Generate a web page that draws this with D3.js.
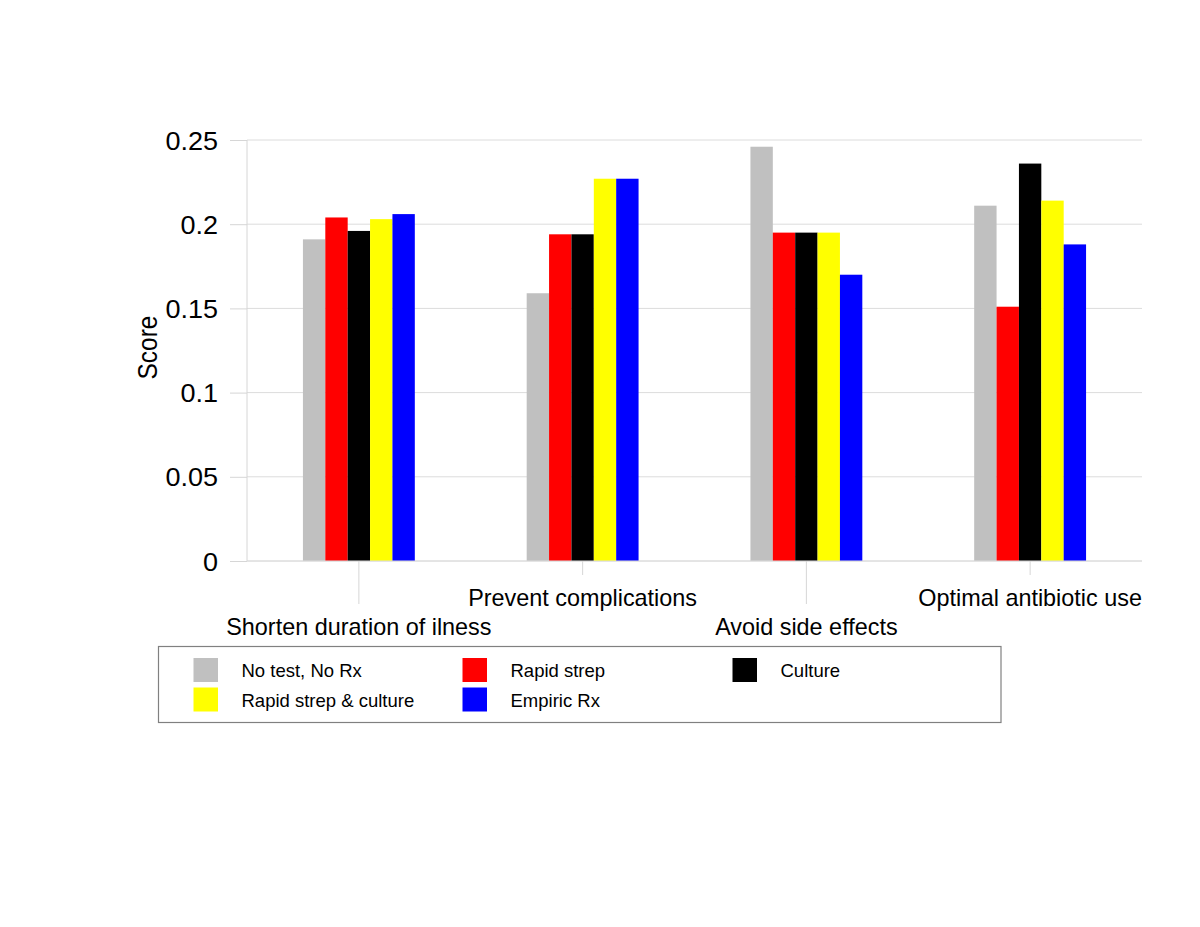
<!DOCTYPE html>
<html>
<head>
<meta charset="utf-8">
<script src="https://cdn.jsdelivr.net/npm/d3@7"></script>
<style>
  html, body { margin: 0; padding: 0; background: #fff; }
  svg { display: block; font-family: "Liberation Sans", Arial, sans-serif; }
</style>
</head>
<body>
<svg id="chart" width="1200" height="927"></svg>
<script>
const categories = ["Shorten duration of ilness", "Prevent complications", "Avoid side effects", "Optimal antibiotic use"];
const seriesNames = ["No test, No Rx", "Rapid strep", "Culture", "Rapid strep & culture", "Empiric Rx"];
const seriesColors = ["#c0c0c0", "#ff0000", "#000000", "#ffff00", "#0000ff"];
const noTestNoRx = [0.191, 0.159, 0.246, 0.211];
const rapidStrep = [0.204, 0.194, 0.195, 0.151];
const culture = [0.196, 0.194, 0.195, 0.236];
const rapidStrepCulture = [0.203, 0.227, 0.195, 0.214];
const empiricRx = [0.206, 0.227, 0.170, 0.188];
const yTicks = [0, 0.05, 0.1, 0.15, 0.2, 0.25];
const yTickLabels = ["0", "0.05", "0.1", "0.15", "0.2", "0.25"];
const yTitle = "Score";

const seriesValues = [noTestNoRx, rapidStrep, culture, rapidStrepCulture, empiricRx];

const svg = d3.select("#chart");
const pLeft = 247, pRight = 1142, pTop = 140, pBottom = 561;

const x0 = d3.scaleBand().domain(categories).range([pLeft, pRight]).paddingInner(0.5).paddingOuter(0.25);
const x1 = d3.scaleBand().domain(seriesNames).range([0, x0.bandwidth()]).padding(0);
const y = d3.scaleLinear().domain([0, 0.25]).range([pBottom, pTop]);

// gridlines
svg.append("g").selectAll("line").data(yTicks).join("line")
  .attr("x1", pLeft).attr("x2", pRight)
  .attr("y1", d => y(d)).attr("y2", d => y(d))
  .attr("stroke", "#dcdcdc").attr("stroke-width", 1);

// y axis line + ticks
const yAxis = d3.axisLeft(y).tickValues(yTicks).tickSize(17).tickFormat((d, i) => yTickLabels[i]);
const ya = svg.append("g").attr("transform", `translate(${pLeft},0)`).call(yAxis);
ya.select(".domain").attr("stroke", "#d6d6d6").attr("d", `M0,${pTop}V${pBottom}`);
ya.selectAll(".tick line").attr("stroke", "#d6d6d6");
ya.selectAll(".tick text").remove();
ya.selectAll(".tick").append("text")
  .attr("text-anchor", "end")
  .attr("transform", "translate(-29,9) scale(1.06,1)")
  .attr("font-size", 25.5)
  .attr("fill", "#000")
  .text((d, i) => yTickLabels[i]);

// y title
svg.append("text")
  .attr("transform", "translate(157,347.5) rotate(-90) scale(1,1.1)")
  .attr("text-anchor", "middle")
  .attr("font-size", 24.5)
  .attr("fill", "#000")
  .text(yTitle);

// bars
const groups = svg.append("g").selectAll("g").data(categories).join("g")
  .attr("transform", d => `translate(${x0(d)},0)`);
groups.selectAll("rect")
  .data((c, ci) => seriesNames.map((s, si) => ({ s, si, v: seriesValues[si][ci] })))
  .join("rect")
  .attr("x", d => x1(d.s))
  .attr("y", d => y(d.v))
  .attr("width", x1.bandwidth())
  .attr("height", d => pBottom - y(d.v))
  .attr("fill", d => seriesColors[d.si]);

// x axis (baseline + staggered ticks)
svg.append("line").attr("x1", pLeft).attr("x2", pRight).attr("y1", pBottom).attr("y2", pBottom)
  .attr("stroke", "#dcdcdc");
const xg = svg.append("g");
categories.forEach((c, i) => {
  const cx = x0(c) + x0.bandwidth() / 2;
  const longTick = i % 2 === 0;
  xg.append("line").attr("x1", cx).attr("x2", cx)
    .attr("y1", pBottom).attr("y2", longTick ? 604 : 575)
    .attr("stroke", "#d6d6d6");
  xg.append("text").attr("x", cx).attr("y", longTick ? 635 : 606)
    .attr("text-anchor", "middle").attr("font-size", 23.4).attr("fill", "#000")
    .text(c);
});

// legend
const lg = svg.append("g");
lg.append("rect").attr("x", 158.5).attr("y", 646.5).attr("width", 842.5).attr("height", 76)
  .attr("fill", "#fff").attr("stroke", "#808080").attr("stroke-width", 1.2);
const legendCols = [193.5, 462.5, 732.5];
const legendRows = [658, 687.5];
seriesNames.forEach((s, i) => {
  const col = i % 3, row = Math.floor(i / 3);
  const gx = legendCols[col], gy = legendRows[row];
  lg.append("rect").attr("x", gx).attr("y", gy).attr("width", 24.5).attr("height", 24)
    .attr("fill", seriesColors[i]);
  lg.append("text").attr("x", gx + 48).attr("y", gy + 19)
    .attr("font-size", 18.5).attr("fill", "#000").text(s);
});
</script>
</body>
</html>
